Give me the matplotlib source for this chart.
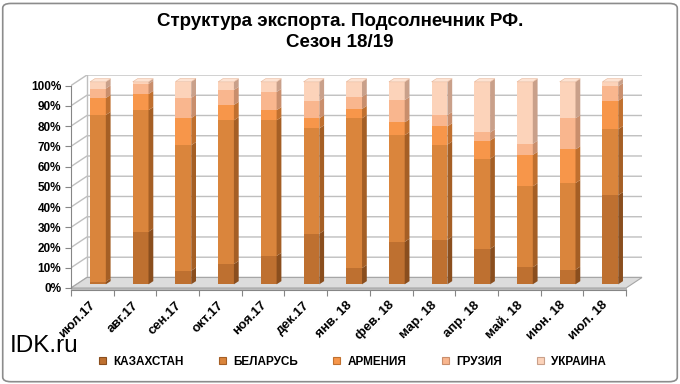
import numpy as np
import matplotlib
matplotlib.use('Agg')
import matplotlib.pyplot as plt
import matplotlib.transforms as mtransforms
from matplotlib.patches import Polygon, FancyBboxPatch, Patch

plt.rcParams['font.family'] = ['Liberation Sans', 'DejaVu Sans']

# данные (доли, %)
months = ['июл.17', 'авг.17', 'сен.17', 'окт.17', 'ноя.17', 'дек.17', 'янв. 18',
          'фев. 18', 'мар. 18', 'апр. 18', 'май. 18', 'июн. 18', 'июл. 18']
series = ['КАЗАХСТАН', 'БЕЛАРУСЬ', 'АРМЕНИЯ', 'ГРУЗИЯ', 'УКРАИНА']
kazakhstan = [1.3, 26, 6.7, 10, 14, 25, 8, 21, 22, 17.5, 8.4, 7.2, 44]
belarus = [82.3, 60, 62, 71, 67, 52, 74, 52.6, 47, 44.5, 40, 42.8, 32.6]
armenia = [8.4, 8, 13.4, 7.6, 5, 5, 4.6, 6.4, 9, 9, 15.5, 16.6, 14]
georgia = [4.7, 5, 10, 7.4, 9, 8.6, 6, 11, 5.6, 4, 5.5, 15.4, 7.2]
ukraine = [3.3, 1, 8, 4, 5, 9.4, 7.4, 9, 16.4, 25, 30.6, 18, 2.2]

front_colors = ['#BE7030', '#DA853C', '#F7964A', '#F9B68E', '#FCD3BA']
side_colors = ['#8A4E1E', '#A55F25', '#C0702F', '#C98E6C', '#C9A08A']
top_color = '#FDE3D3'

data = np.array([kazakhstan, belarus, armenia, georgia, ukraine])

fig = plt.figure(figsize=(6.8, 3.84), dpi=100)
ax = fig.add_axes([71 / 680, 1 - 288 / 384, 571 / 680, 213 / 384])

n = len(months)
dx, dy = 0.373, 5.2          # сдвиг задней стенки
ox, oy = 0.35 * dx, 0.35 * dy  # положение столбцов в глубину
bx, by = 0.30 * dx, 0.30 * dy  # глубина столбца
w = 0.37
x0, x1 = -0.5, n - 0.5

ax.set_xlim(x0, x1 + dx)
ax.set_ylim(0, 100 + dy)

grid_c = '#BFBFBF'
# сетка на стенках
for v in range(0, 101, 10):
    ax.plot([x0, x0 + dx, x1 + dx], [v, v + dy, v + dy], color=grid_c, lw=1, zorder=1)
ax.plot([x0 + dx, x0 + dx], [dy, 100 + dy], color=grid_c, lw=1, zorder=1)

# пол
floor = Polygon([[x0, 0], [x1, 0], [x1 + dx, dy], [x0 + dx, dy]], closed=True,
                facecolor='#DCDCDC', edgecolor='#A6A6A6', lw=0.8, zorder=2, clip_on=False)
ax.add_patch(floor)
slab = Polygon([[x0, 0], [x1, 0], [x1, -0.9], [x0, -0.9]], closed=True,
               facecolor='#BDBDBD', edgecolor='#A6A6A6', lw=0.5, zorder=2, clip_on=False)
ax.add_patch(slab)

# столбцы
xs = np.arange(n) + ox
bottoms = np.zeros(n)
for k in range(len(series)):
    vals = data[k]
    ax.bar(xs, vals, width=w, bottom=bottoms + oy, color=front_colors[k],
           edgecolor='none', zorder=4, label=series[k])
    for i in range(n):
        xr = xs[i] + w / 2
        b = bottoms[i] + oy
        t = b + vals[i]
        side = Polygon([[xr, b], [xr + bx, b + by], [xr + bx, t + by], [xr, t]],
                       closed=True, facecolor=side_colors[k], edgecolor='none', zorder=4)
        ax.add_patch(side)
    bottoms = bottoms + vals

for i in range(n):
    xl = xs[i] - w / 2
    t = bottoms[i] + oy
    top = Polygon([[xl, t], [xl + w, t], [xl + w + bx, t + by], [xl + bx, t + by]],
                  closed=True, facecolor=top_color, edgecolor='#E8B79A', lw=0.4, zorder=5)
    ax.add_patch(top)

# оси
for s in ['top', 'right']:
    ax.spines[s].set_visible(False)
ax.spines['left'].set_bounds(0, 100)
ax.spines['bottom'].set_bounds(x0, x1)
ax.spines['left'].set_color('#868686')
ax.spines['bottom'].set_color('#868686')
ax.spines['bottom'].set_position(('data', -0.9))

ax.set_yticks(range(0, 101, 10))
ax.set_yticklabels([f'{v}%' for v in range(0, 101, 10)], fontsize=8.5, fontweight='bold')
ax.tick_params(axis='y', length=4, color='#868686', pad=3)

ax.set_xticks(np.arange(-0.5, n, 1))
ax.set_xticklabels([])
ax.tick_params(axis='x', which='major', length=4, color='#868686')

# подписи месяцев
lbl_tr = ax.get_xaxis_transform() + mtransforms.ScaledTranslation(-2 / 72, -8 / 72, fig.dpi_scale_trans)
for i, m in enumerate(months):
    ax.text(i, 0, m, transform=lbl_tr, rotation=45, rotation_mode='anchor',
            ha='right', va='top', fontsize=9.5, fontweight='bold', clip_on=False)

fig.text(0.5, 0.965, 'Структура экспорта. Подсолнечник РФ.\nСезон 18/19', ha='center', va='top',
         fontsize=13.5, fontweight='bold', linespacing=1.3)
fig.text(0.014, 0.07, 'IDK.ru', fontsize=17.5, va='bottom')

handles = [Patch(facecolor=front_colors[k], edgecolor=side_colors[k], lw=0.8) for k in range(len(series))]
fig.legend(handles, series, loc='center left', bbox_to_anchor=(0.13, 0.058), ncol=5, frameon=False,
           handlelength=0.6, handleheight=0.6, handletextpad=0.6, columnspacing=3.0,
           prop={'size': 8.5, 'weight': 'bold'})

border = FancyBboxPatch((0.004, 0.006), 0.992, 0.985, boxstyle='round,pad=0,rounding_size=0.012',
                        transform=fig.transFigure, fill=False, edgecolor='#8C8C8C', lw=1.2)
fig.patches.append(border)

fig.savefig('out.png', dpi=100)
